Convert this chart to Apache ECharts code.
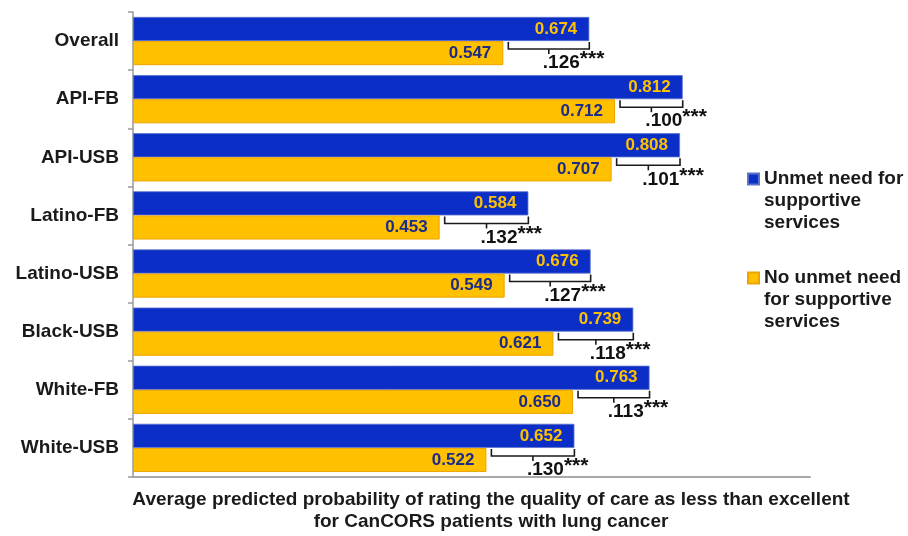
<!DOCTYPE html>
<html>
<head>
<meta charset="utf-8">
<script src="https://cdn.jsdelivr.net/npm/echarts@6/dist/echarts.min.js"></script>
<style>
  html, body { margin: 0; padding: 0; background: #fff; }
  #chart { width: 908px; height: 536px; }
</style>
</head>
<body>
<div id="chart"></div>
<script>
// Patient groups, top to bottom
const categories = ['Overall', 'API-FB', 'API-USB', 'Latino-FB', 'Latino-USB', 'Black-USB', 'White-FB', 'White-USB'];
// Average predicted probability of rating care as less than excellent
const unmetNeed = [0.674, 0.812, 0.808, 0.584, 0.676, 0.739, 0.763, 0.652];
const noUnmetNeed = [0.547, 0.712, 0.707, 0.453, 0.549, 0.621, 0.650, 0.522];
// Reported differences between the two groups (all p < .001)
const differences = ['.126', '.100', '.101', '.132', '.127', '.118', '.113', '.130'];
const significance = ['***', '***', '***', '***', '***', '***', '***', '***'];

const seriesNames = ['Unmet need for\nsupportive\nservices', 'No unmet need\nfor supportive\nservices'];

const FONT = '"Liberation Sans", Arial, sans-serif';
const BLUE = '#0b2fc6';
const ORANGE = '#ffc000';

const chart = echarts.init(document.getElementById('chart'), null, { renderer: 'canvas' });

// Bracket connecting the two bar ends with the difference label beneath
function renderBracket(params, api) {
  const idx = api.value(0);
  const hi = api.value(1);
  const lo = api.value(2);
  const pLo = api.coord([lo, idx]);
  const pHi = api.coord([hi, idx]);
  const cy = pLo[1];
  const x1 = pLo[0] + 5;
  const x2 = pHi[0];
  const mid = (x1 + x2) / 2;
  const yTop = cy + 1;
  const yLine = cy + 8;
  const lineStyle = { stroke: '#1a1a1a', lineWidth: 1.6, fill: null };
  return {
    type: 'group',
    children: [
      { type: 'polyline', shape: { points: [[x1, yTop], [x1, yLine], [x2, yLine], [x2, yTop]] }, style: lineStyle },
      { type: 'line', shape: { x1: mid, y1: yLine, x2: mid, y2: yLine + 5 }, style: lineStyle },
      {
        type: 'text',
        x: mid - 6,
        y: yLine + 3,
        style: {
          text: '{v|' + differences[idx] + '}{s|' + significance[idx] + '}',
          align: 'left',
          verticalAlign: 'top',
          rich: {
            v: { fontFamily: FONT, fontWeight: 'bold', fontSize: 19, fill: '#111', lineHeight: 22 },
            s: { fontFamily: FONT, fontWeight: 'bold', fontSize: 21, fill: '#111', padding: [0, 0, 7, 0], lineHeight: 22 }
          }
        }
      }
    ]
  };
}

const option = {
  animation: false,
  backgroundColor: '#ffffff',
  grid: { left: 133, right: 98, top: 12, bottom: 59, containLabel: false },
  xAxis: {
    type: 'value',
    min: 0,
    max: 1,
    axisLine: { show: true, lineStyle: { color: '#a8a8a8', width: 2 } },
    axisTick: { show: false },
    axisLabel: { show: false },
    splitLine: { show: false }
  },
  yAxis: {
    type: 'category',
    data: categories,
    inverse: true,
    axisLine: { show: true, lineStyle: { color: '#9a9a9a', width: 1.5 } },
    axisTick: { show: true, length: 5, lineStyle: { color: '#9a9a9a', width: 1.5 } },
    axisLabel: {
      fontFamily: FONT, fontWeight: 'bold', fontSize: 19, color: '#1a1a1a', margin: 14
    }
  },
  legend: {
    orient: 'vertical',
    left: 742,
    top: 119,
    itemWidth: 11,
    itemHeight: 11,
    itemGap: -11,
    icon: 'rect',
    selectedMode: false,
    data: seriesNames,
    // two blank lines above keep the marker level with the first text line
    formatter: name => '\n\n' + name,
    textStyle: {
      fontFamily: FONT, fontWeight: 'bold', fontSize: 19, color: '#1a1a1a', lineHeight: 22
    }
  },
  graphic: [{
    type: 'text',
    x: 491,
    y: 489,
    style: {
      text: 'Average predicted probability of rating the quality of care as less than excellent\nfor CanCORS patients with lung cancer',
      align: 'center',
      verticalAlign: 'top',
      fontFamily: FONT,
      fontWeight: 'bold',
      fontSize: 19,
      lineHeight: 22,
      fill: '#1a1a1a'
    }
  }],
  series: [
    {
      name: seriesNames[0],
      type: 'bar',
      data: unmetNeed,
      barCategoryGap: '17%',
      barGap: '0%',
      itemStyle: { color: BLUE, borderColor: '#5d72cf', borderWidth: 0.8 },
      label: {
        show: true, position: 'insideRight', distance: 12,
        formatter: p => p.value.toFixed(3),
        fontFamily: FONT, fontWeight: 'bold', fontSize: 17, color: ORANGE
      }
    },
    {
      name: seriesNames[1],
      type: 'bar',
      data: noUnmetNeed,
      barCategoryGap: '17%',
      barGap: '0%',
      itemStyle: { color: ORANGE, borderColor: '#eda400', borderWidth: 1 },
      label: {
        show: true, position: 'insideRight', distance: 12,
        formatter: p => p.value.toFixed(3),
        fontFamily: FONT, fontWeight: 'bold', fontSize: 17, color: '#1b2b86'
      }
    },
    {
      type: 'custom',
      name: 'difference',
      renderItem: renderBracket,
      data: categories.map((c, i) => [i, unmetNeed[i], noUnmetNeed[i]]),
      encode: { x: [1, 2], y: 0 },
      silent: true,
      z: 5
    }
  ]
};

chart.setOption(option);
</script>
</body>
</html>
